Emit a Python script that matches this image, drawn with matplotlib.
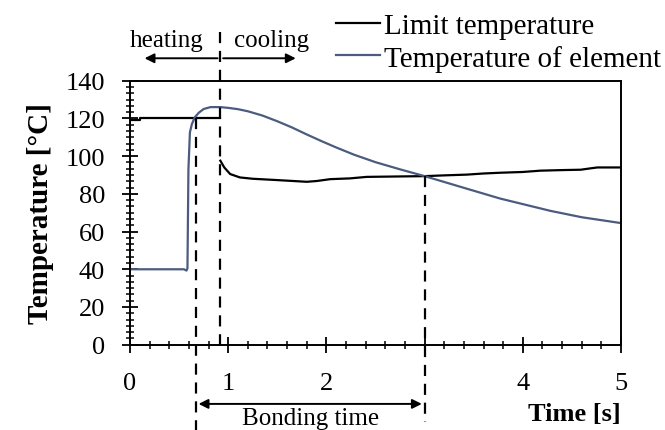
import numpy as np
import matplotlib
matplotlib.use("Agg")
import matplotlib.pyplot as plt
from matplotlib.ticker import MultipleLocator, FixedLocator, FixedFormatter

plt.rcParams['font.family'] = ['Liberation Serif', 'DejaVu Serif']

# limit temperature (two pieces: heating stage and cooling stage)
limit_t1 = [0.0, 0.1, 0.1, 0.92]
limit_v1 = [119, 119, 120, 120]
limit_t2 = [0.92, 0.96, 1.02, 1.12, 1.25, 1.43, 1.6, 1.8, 1.9, 2.04, 2.24, 2.41,
            2.7, 3.0, 3.2, 3.43, 3.6, 3.77, 4.0, 4.18, 4.4, 4.59, 4.7, 4.76, 5.0]
limit_v2 = [97.6, 94, 90.5, 88.7, 88.0, 87.5, 87.0, 86.4, 86.8, 87.8, 88.2, 89.0,
            89.2, 89.4, 89.8, 90.2, 90.8, 91.2, 91.6, 92.3, 92.6, 92.8, 93.6, 94.0, 94.0]

# temperature of element
elem_t = [0.0, 0.55, 0.575, 0.585, 0.595, 0.61, 0.63, 0.66, 0.7, 0.75, 0.82, 0.92,
          1.0, 1.1, 1.2, 1.35, 1.5, 1.65, 1.8, 1.94, 2.1, 2.28, 2.5, 2.75, 3.0,
          3.4, 3.77, 4.28, 4.6, 5.0]
elem_v = [40, 40, 39.3, 40.5, 93, 112.6, 117, 120.6, 123, 125, 126, 126,
          125.6, 124.9, 123.8, 121.5, 118.5, 115.2, 111.5, 108.2, 104.6, 100.8,
          96.8, 93.0, 89.4, 83.2, 77.5, 71.0, 67.6, 64.5]

x_ticks = [0, 1, 2, 3, 4, 5]
x_labels = ['0', '1', '2', '', '4', '5']
y_ticks = [0, 20, 40, 60, 80, 100, 120, 140]

t_start = 0.67   # start of bonding
t_cool = 0.92    # heating -> cooling
t_end = 3.0      # end of bonding

blue = '#4c5c7e'

fig = plt.figure(figsize=(6.65, 4.31), dpi=100)
ax = fig.add_axes([0.1955, 0.1979, 0.7383, 0.6125])

ax.plot(limit_t1, limit_v1, color='black', lw=1.6)
ax.plot(limit_t2, limit_v2, color='black', lw=1.6, label='Limit temperature')
ax.plot(elem_t, elem_v, color=blue, lw=1.6, label='Temperature of element')

ax.set_xlim(0, 5)
ax.set_ylim(0, 140)

ax.xaxis.set_major_locator(FixedLocator(x_ticks))
ax.xaxis.set_major_formatter(FixedFormatter(x_labels))
ax.xaxis.set_minor_locator(MultipleLocator(0.2))
ax.yaxis.set_major_locator(FixedLocator(y_ticks))
ax.yaxis.set_minor_locator(MultipleLocator(20 / 6))

ax.tick_params(which='major', direction='inout', length=12, width=1.3, labelsize=19)
ax.tick_params(which='minor', direction='inout', length=6, width=1.1)
ax.tick_params(axis='y', which='major', pad=12)
ax.tick_params(axis='x', which='major', pad=14)
for s in ax.spines.values():
    s.set_linewidth(1.4)

ax.set_ylabel('Temperature [°C]', fontsize=21, fontweight='bold', labelpad=8)
ax.text(5.0, -36.5, 'Time [s]', fontsize=19, fontweight='bold', ha='right', va='center')

# dashed guide lines
dash = dict(color='black', lw=1.6, ls=(0, (5, 3.5)), clip_on=False)
ax.plot([t_start, t_start], [120, -46], **dash)
ax.plot([t_cool, t_cool], [166, -4], **dash)
ax.plot([t_end, t_end], [89.4, -41], **dash)

# heating / cooling arrows
arr = dict(arrowstyle='-|>', color='black', lw=1.4, mutation_scale=14)
ax.annotate('', xy=(0.12, 151.9), xytext=(t_cool, 151.9), arrowprops=arr, annotation_clip=False)
ax.annotate('', xy=(1.716, 151.9), xytext=(t_cool, 151.9), arrowprops=arr, annotation_clip=False)
ax.text(0.37, 161.5, 'heating', fontsize=18, ha='center', va='center')
ax.text(1.44, 161.5, 'cooling', fontsize=18, ha='center', va='center')

# bonding time arrow
ax.annotate('', xy=(t_start, -31.4), xytext=(t_end, -31.4),
            arrowprops=dict(arrowstyle='<|-|>', color='black', lw=1.4, mutation_scale=14),
            annotation_clip=False)
ax.text((t_start + t_end) / 2, -41.8, 'Bonding time', fontsize=18, ha='center', va='baseline')

fig.legend(loc='center left', bbox_to_anchor=(336 / 665, 1 - 43 / 431), frameon=False,
           fontsize=21, handlelength=1.5, handletextpad=0.15, borderpad=0,
           borderaxespad=0, labelspacing=0.2)

fig.savefig('out.png', dpi=100)
